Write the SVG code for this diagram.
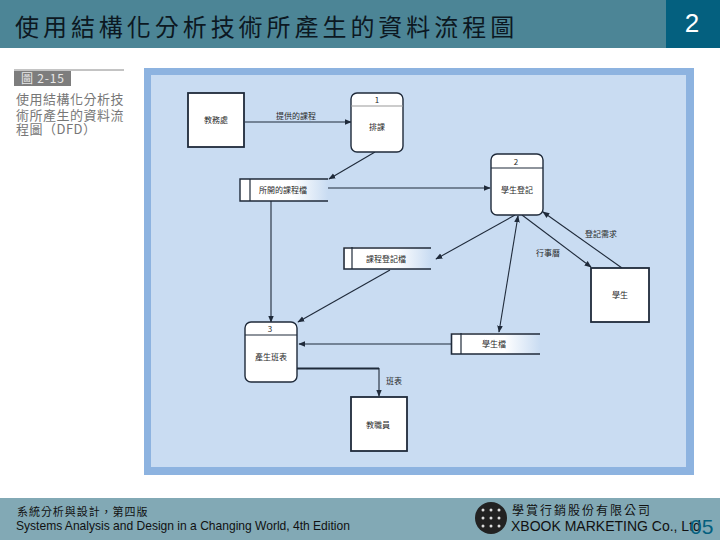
<svg xmlns="http://www.w3.org/2000/svg" width="720" height="540" viewBox="0 0 720 540">
<style>
.cjk{font-family:"Noto Sans CJK TC","Liberation Sans",sans-serif}
.lat{font-family:"Liberation Sans",Arial,sans-serif}
.lb{font-family:"Noto Sans CJK TC",sans-serif;font-size:8px;fill:#2a2a2a;text-anchor:middle}
.box{fill:#fff;stroke:#1f2a3a;stroke-width:1.8}
.proc{fill:#fff;stroke:#1f2a3a;stroke-width:1.4}
.div{stroke:#1f2a3a;stroke-width:1.2}
.cn{fill:none;stroke:#1f2a3a;stroke-width:1.1;marker-end:url(#ah)}
</style>
<defs>
<marker id="ah" viewBox="0 0 10 10" refX="9" refY="5" markerWidth="7" markerHeight="7" orient="auto-start-reverse" markerUnits="userSpaceOnUse"><path d="M0 1L10 5L0 9Z" fill="#1f2a3a"/></marker>
<linearGradient id="fade" x1="0" x2="1" y1="0" y2="0"><stop offset="0.6" stop-color="#fff"/><stop offset="1" stop-color="#c9dcf2"/></linearGradient>
</defs>
<rect width="720" height="540" fill="#fff"/>
<rect width="720" height="48" fill="#4c8596"/>
<rect x="666" width="54" height="48" fill="#04607f"/>
<text x="15" y="36" class="cjk" font-size="24" letter-spacing="3.95" fill="#0c1822">使用結構化分析技術所產生的資料流程圖</text>
<text x="692" y="32" class="lat" font-size="26" fill="#fff" text-anchor="middle">2</text>
<line x1="14" y1="70" x2="124" y2="70" stroke="#888" stroke-width="1"/>
<rect x="14" y="71" width="57" height="15" fill="#7d7d7d"/>
<text x="21" y="83" class="cjk" font-size="12" letter-spacing="0.8" fill="#e8e8e8">圖 2-15</text>
<text class="cjk" font-size="13" letter-spacing="0.5" fill="#777"><tspan x="16" y="104">使用結構化分析技</tspan><tspan x="16" y="119.500">術所產生的資料流</tspan><tspan x="16" y="134">程圖（DFD）</tspan></text>
<rect x="144" y="68" width="550" height="407" fill="#8db3e0"/>
<rect x="151" y="75" width="535" height="392" fill="#c9dcf2"/>
<g id="connectors">
<path class="cn" d="M245 122H351"/>
<path class="cn" d="M375 152L329 179"/>
<path class="cn" d="M328 188H490"/>
<path class="cn" d="M271 201V322"/>
<path class="cn" d="M515 215L436 259"/>
<path class="cn" d="M390 270L298 322"/>
<path class="cn" d="M499 332L518 216" style="marker-start:url(#ah)"/>
<path class="cn" d="M622 268L543 212"/>
<path class="cn" d="M522 215L591 267"/>
<path class="cn" d="M451 344H299"/>
<path fill="none" stroke="#1f2a3a" stroke-width="2" d="M297 368.500H379"/>
<path class="cn" d="M379 368V396"/>
</g>
<g id="n-academic"><rect class="box" x="188" y="93" width="56" height="54"/><text class="lb" x="216" y="123">教務處</text></g>
<g id="n-p1"><rect class="proc" x="351" y="93" width="52" height="59" rx="6"/><line x1="351" x2="403" y1="106" y2="106" stroke="#999" stroke-width="1.2"/><text class="lb" x="377" y="103">1</text><text class="lb" x="377" y="130">排課</text></g>
<g id="n-p2"><rect class="proc" x="491" y="154" width="52" height="61" rx="6"/><line class="div" x1="491" x2="543" y1="168" y2="168"/><text class="lb" x="516" y="165">2</text><text class="lb" x="517" y="193">學生登記</text></g>
<g id="n-p3"><rect class="proc" x="245" y="322" width="52" height="60" rx="6"/><line class="div" x1="245" x2="297" y1="335" y2="335"/><text class="lb" x="270" y="332">3</text><text class="lb" x="271" y="360">產生班表</text></g>
<g id="n-teacher"><rect class="box" x="351" y="397" width="56" height="54"/><text class="lb" x="378" y="428">教職員</text></g>
<g id="n-student"><rect class="box" x="591" y="268" width="58" height="54"/><text class="lb" x="620" y="298">學生</text></g>
<g id="s-offered"><rect x="240" y="179" width="88" height="22" fill="url(#fade)"/><path d="M328 179H240V201H328" fill="none" stroke="#1f2a3a" stroke-width="1.4"/><line class="div" x1="250" x2="250" y1="179" y2="201"/><text class="lb" x="283" y="193">所開的課程檔</text></g>
<g id="s-enroll"><rect x="343" y="247" width="88" height="22" fill="url(#fade)"/><path d="M431 248H344V269H431" fill="none" stroke="#1f2a3a" stroke-width="1.6"/><line class="div" x1="352" x2="352" y1="247" y2="269"/><text class="lb" x="386" y="262">課程登記檔</text></g>
<g id="s-student"><rect x="451" y="333" width="89" height="21" fill="url(#fade)"/><path d="M540 334H451.500V354H540" fill="none" stroke="#1f2a3a" stroke-width="1.6"/><line class="div" x1="461" x2="461" y1="333" y2="354"/><text class="lb" x="494" y="347">學生檔</text></g>
<g id="labels">
<text class="lb" x="296" y="119">提供的課程</text>
<text class="lb" x="601" y="237">登記需求</text>
<text class="lb" x="548" y="256">行事曆</text>
<text class="lb" x="394" y="384">班表</text>
</g>
<rect y="498" width="720" height="42" fill="#82a9b5"/>
<text x="17" y="516" class="cjk" font-size="11" letter-spacing="0.95" fill="#111">系統分析與設計，第四版</text>
<text x="16" y="530" class="lat" font-size="12.050" fill="#111">Systems Analysis and Design in a Changing World, 4th Edition</text>
<circle cx="491" cy="518" r="16" fill="#222"/>
<g fill="#ddd"><circle cx="483" cy="510" r="1.500"/><circle cx="491" cy="510" r="1.500"/><circle cx="499" cy="510" r="1.500"/><circle cx="483" cy="518" r="1.500"/><circle cx="491" cy="518" r="1.500"/><circle cx="499" cy="518" r="1.500"/><circle cx="483" cy="526" r="1.500"/><circle cx="491" cy="526" r="1.500"/><circle cx="499" cy="526" r="1.500"/></g>
<text x="512" y="515" class="cjk" font-size="12" letter-spacing="2" fill="#111">學賞行銷股份有限公司</text>
<text x="511" y="531" class="lat" font-size="14" fill="#111">XBOOK MARKETING Co., Ltd</text>
<text x="690" y="534" class="lat" font-size="21" fill="#04607f">05</text>
</svg>
